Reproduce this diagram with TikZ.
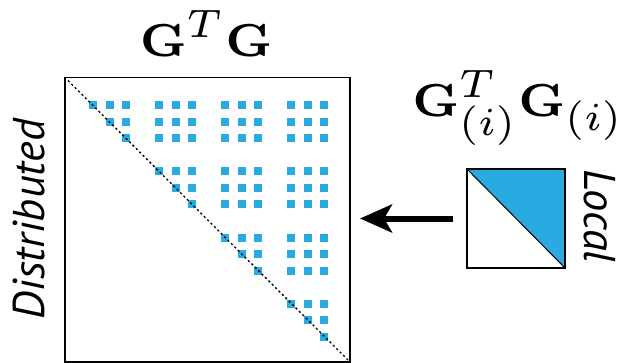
\documentclass[tikz,border=0pt]{standalone}
\usepackage{amsmath,amssymb}
\usepackage[no-math]{fontspec}
\newfontfamily\sidefont{PT Sans}
\usetikzlibrary{arrows.meta,calc}
\definecolor{cellblue}{RGB}{41,171,226}
\DeclareMathSizes{7}{7}{6}{5}

\begin{document}
\begin{tikzpicture}[x=1pt, y=-1pt, every node/.style={inner sep=0pt},
	side/.style={font=\sidefont\itshape\fontsize{44.5}{46}\selectfont},
	title/.style={scale=6.61, font=\fontsize{7}{8}\selectfont}]
	\useasboundingbox (0,0) rectangle (620,363);
	% distributed matrix, 4x4 blocks of 3x3, upper part stored
	\coordinate (A0) at (65,77.5);
	\coordinate (A1) at (350,362);
	\draw[line width=1.2pt] (A0) rectangle (A1);
	\foreach \bi in {0,...,3}
	  \foreach \bj in {\bi,...,3}
	    \foreach \ki in {0,1,2}
	      \foreach \kj in {0,1,2}{
	        \pgfmathtruncatemacro{\keep}{(\bi<\bj) || (\ki<=\kj)}
	        \ifnum\keep=1
	          \fill[cellblue] ($(A0)+(28+66*\bj+16.5*\kj,28+66*\bi+16.5*\ki)+(-4,-4)$) rectangle +(8,8);
	        \fi
	      }
	\draw[line width=1.3pt, dash pattern=on 2.2pt off 2.6pt] ($(A0)+(3,3)$) -- ($(A1)+(-2,-2)$);
	\node[title, anchor=base] (gtg) at (206,57) {$\mathbf{G}^T\mathbf{G}$};
	\node[side, rotate=90] (dist) at (29,219) {Distributed};
	% local block
	\coordinate (B0) at (467,169);
	\coordinate (B1) at (565,268);
	\fill[cellblue] (B0) -- (B0-|B1) -- (B1) -- cycle;
	\draw[line width=1.2pt] (B0) rectangle (B1);
	\draw[line width=1pt] (B0) -- (B1);
	\node[title, anchor=base west] (gig) at (411,117) {$\mathbf{G}^T_{(i)}\mathbf{G}_{(i)}$};
	\node[side, rotate=-90] (loc) at (600,216) {Local};
	% gather arrow
	\coordinate (from) at (453,218.5);
	\coordinate (to) at (360,218.5);
	\draw[line width=6pt, -{Stealth[length=32pt, width=28pt, inset=8pt]}] (from) -- (to);
\end{tikzpicture}
\end{document}
